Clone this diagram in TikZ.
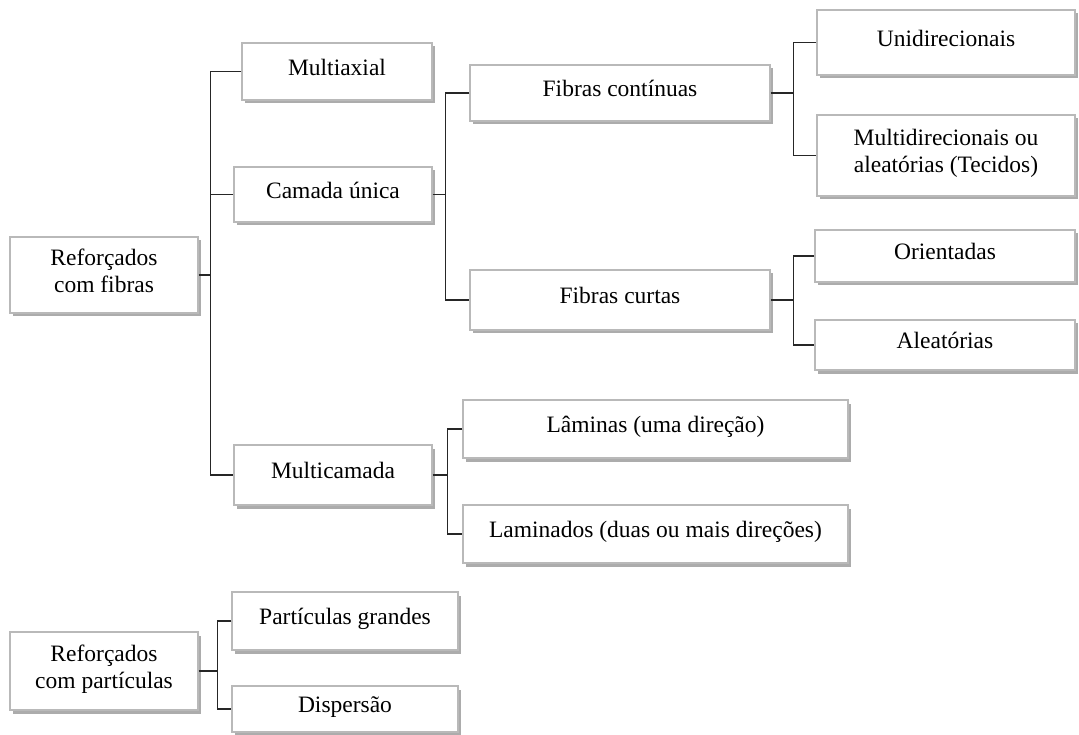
\documentclass[tikz,border=0pt]{standalone}
\usepackage{fontspec}
\setmainfont{Liberation Serif}
\usetikzlibrary{shadows}
\tikzset{
  caixa/.style={draw=gray!55, line width=1.1pt, fill=white, align=center,
    inner sep=0pt, text depth=9pt, font=\fontsize{23.5}{27}\selectfont,
    drop shadow={shadow xshift=2.5pt, shadow yshift=-3.5pt, fill=gray!65, opacity=1}},
  ramo/.style={draw=black!85, line width=1.1pt}
}
\begin{document}
\begin{tikzpicture}[x=1pt,y=-1pt]
\useasboundingbox(0,0) rectangle (1079,735);
% fibras
\node[caixa,minimum width=188,minimum height=76](rf) at (104,275){Reforçados\\com fibras};
\node[caixa,minimum width=190,minimum height=57](mx) at (337,71.5){Multiaxial};
\node[caixa,minimum width=198,minimum height=55](cu) at (333,194.5){Camada única};
\node[caixa,minimum width=198,minimum height=60](mcm) at (333,475){Multicamada};
\node[caixa,minimum width=300,minimum height=56](fc) at (620,93){Fibras contínuas};
\node[caixa,minimum width=300,minimum height=60](fcu) at (620,300){Fibras curtas};
\node[caixa,minimum width=258,minimum height=65](un) at (946,42.5){Unidirecionais};
\node[caixa,minimum width=258,minimum height=81](md) at (946,155.5){Multidirecionais ou\\aleatórias (Tecidos)};
\node[caixa,minimum width=260,minimum height=52](or) at (945,256){Orientadas};
\node[caixa,minimum width=260,minimum height=50](al) at (945,345){Aleatórias};
\node[caixa,minimum width=385,minimum height=58](lam) at (655.5,429){Lâminas (uma direção)};
\node[caixa,minimum width=385,minimum height=58](lad) at (655.5,534){Laminados (duas ou mais direções)};
% particulas
\node[caixa,minimum width=188,minimum height=78](rp) at (104,671){Reforçados\\com partículas};
\node[caixa,minimum width=226,minimum height=58](pg) at (345,621){Partículas grandes};
\node[caixa,minimum width=226,minimum height=46](dp) at (345,709){Dispersão};
% ligacoes
\draw[ramo](rf.east)--++(12,0)coordinate(t1);
\draw[ramo](mx.west)-|(t1)|-(mcm.west);
\draw[ramo](cu.west)--(cu.west-|t1);
\draw[ramo](cu.east)--++(13,0)coordinate(t2);
\draw[ramo](fc.west)-|(t2)|-(fcu.west);
\draw[ramo](fc.east)--++(23,0)coordinate(t3);
\draw[ramo](un.west)-|(t3)|-(md.west);
\draw[ramo](fcu.east)--++(23,0)coordinate(t4);
\draw[ramo](or.west)-|(t4)|-(al.west);
\draw[ramo](mcm.east)--++(15,0)coordinate(t5);
\draw[ramo](lam.west)-|(t5)|-(lad.west);
\draw[ramo](rp.east)--++(19,0)coordinate(t6);
\draw[ramo](pg.west)-|(t6)|-(dp.west);
\end{tikzpicture}
\end{document}
